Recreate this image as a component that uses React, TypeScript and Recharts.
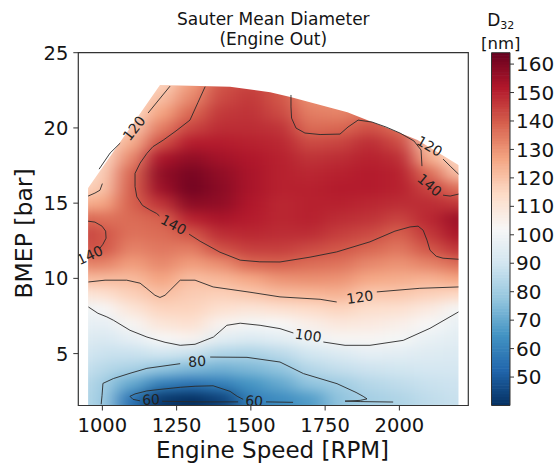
import { Area, ComposedChart, Line, ReferenceArea, Scatter, XAxis, YAxis } from 'recharts'

// D32 [nm], rows = BMEP, columns = engine speed
const rpmNodes = [950, 1000, 1100, 1200, 1300, 1400, 1500, 1600, 1700, 1800, 1900, 2000, 2100, 2200]
const bmepNodes = [2, 3, 4, 5, 6, 7, 8, 9, 10, 11, 12, 13, 14, 15, 16, 17, 18, 19, 20, 21, 22, 23]
const d32Grid = [
  [84, 79, 56, 42, 38, 44, 59, 63, 67, 77, 81, 83, 86, 88],
  [85, 80, 70, 59, 56, 59, 65, 70, 77, 80, 84, 86, 88, 89],
  [88, 84, 82, 77, 74, 72, 74, 77, 84, 87, 89, 90, 91, 91],
  [91, 88, 88, 90, 88, 83, 82, 85, 90, 93, 96, 95, 94, 93],
  [94, 92, 96, 102, 104, 95, 93, 95, 99, 103, 103, 101, 97, 95],
  [97, 96, 103, 110, 112, 104, 101, 102, 106, 109, 108, 106, 102, 97],
  [99, 102, 110, 116, 116, 112, 110, 112, 114, 116, 113, 112, 108, 101],
  [110, 112, 117, 121, 118, 117, 119, 122, 123, 124, 119, 119, 117, 115],
  [122, 122, 122, 127, 121, 123, 126, 130, 131, 130, 126, 125, 124, 127],
  [133, 133, 128, 132, 128, 131, 138, 139, 137, 136, 132, 130, 133, 137],
  [142, 141, 133, 135, 134, 142, 145, 145, 143, 141, 138, 135, 141, 147],
  [144, 141, 136, 137, 141, 148, 149, 148, 148, 145, 143, 139, 146, 153],
  [138, 136, 137, 139, 150, 153, 151, 149, 150, 148, 147, 144, 149, 155],
  [125, 126, 139, 147, 158, 157, 152, 149, 150, 150, 149, 148, 148, 146],
  [116, 120, 139, 155, 162, 158, 153, 150, 150, 151, 151, 150, 144, 136],
  [112, 118, 138, 157, 161, 157, 153, 150, 149, 150, 151, 150, 137, 120],
  [111, 115, 132, 153, 157, 154, 152, 150, 147, 148, 150, 148, 125, 114],
  [110, 112, 125, 142, 151, 151, 150, 149, 143, 144, 148, 143, 119, 112],
  [110, 111, 119, 134, 144, 148, 148, 147, 137, 138, 142, 137, 116, 112],
  [110, 110, 114, 127, 138, 146, 147, 143, 134, 133, 136, 132, 114, 112],
  [110, 110, 112, 121, 132, 143, 146, 141, 131, 130, 132, 130, 114, 112],
  [110, 110, 112, 116, 128, 141, 144, 140, 130, 128, 130, 130, 114, 112],
]

// upper edge of the measured region (outside is blank)
const hullRpm = [919, 952, 1194, 1430, 1565, 1633, 1825, 2061, 2199, 2232]
const hullTop = [16.0, 16.0, 22.85, 22.74, 22.37, 22.05, 21.05, 19.2, 17.53, 17.53]

// contour lines [rpm, bmep], split where the labels sit
const c140a = [[1346, 22.74], [1322, 21.7], [1295, 20.52], [1248, 19.8], [1205, 19.19], [1170, 18.75], [1150, 18.31], [1127, 17.66], [1110, 16.98], [1110, 16.1], [1116, 15.42], [1135, 14.85], [1160, 14.55], [1183, 14.31], [1192, 14.15]]
const c140b = [[1292, 12.94], [1329, 12.47], [1396, 11.74], [1464, 11.21], [1530, 11.1], [1598, 11.09], [1699, 11.41], [1789, 11.76], [1901, 12.43], [1985, 13.14], [2036, 13.42], [2063, 13.47], [2080, 13.2], [2093, 12.54], [2103, 11.87], [2124, 11.47], [2147, 11.34], [2199, 11.27]]
const c140left = [[952, 13.8], [975, 13.74], [999, 13.47], [1011, 13.14], [1012.5, 12.67], [1002, 12.27], [992, 12.01]]
const c140topA = [[1635, 22.19], [1635, 21.4], [1637, 20.65], [1652, 19.99], [1682, 19.66], [1733, 19.56], [1800, 19.59], [1827, 20.06], [1861, 20.52], [1908, 20.39], [1955, 20.06], [2002, 19.66], [2049, 19.13], [2073, 18.53], [2076, 17.46]]
const c140topB = [[2147, 15.53], [2171, 15.47], [2199, 15.6]]
const c120edgeA = [[952, 15.47], [975, 15.67], [992, 15.86], [1000, 16.3]]
const c120edgeB = [[989, 17.26], [1026, 18.33], [1060, 18.99]]
const c120edgeC = [[1154, 20.99], [1184, 21.72], [1228, 22.78]]
const c120a = [[953, 9.76], [1009, 9.88], [1082, 9.88], [1127, 9.68], [1150, 9.32], [1177, 8.88], [1194, 8.73], [1211, 8.88], [1228, 9.21], [1262, 9.88], [1312, 9.88], [1373, 9.43], [1497, 9.08], [1598, 8.77], [1733, 8.61], [1789, 8.43]]
const c120b = [[1924, 9.1], [2069, 9.34], [2199, 9.43]]
const c120corner = [[2147, 17.93], [2171, 17.46], [2199, 16.93]]
const c100a = [[953, 8.1], [985, 7.68], [1015, 7.44], [1037, 7.22], [1093, 6.55], [1150, 6.1], [1211, 5.75], [1262, 5.55], [1312, 5.62], [1374, 6.1], [1396, 6.48], [1419, 6.88], [1464, 7.02], [1531, 6.88], [1598, 6.66], [1643, 6.37]]
const c100b = [[1744, 5.77], [1817, 5.55], [1901, 5.55], [2013, 5.88], [2103, 6.68], [2199, 7.77]]
const c80a = [[996, 1.63], [999, 2.22], [1002, 3.02], [1037, 3.34], [1093, 3.69], [1150, 4.02], [1262, 4.33]]
const c80b = [[1363, 4.77], [1487, 4.75], [1598, 4.44], [1677, 3.67], [1790, 3.0], [1854, 2.42], [1878, 2.16], [1891, 1.99], [1868, 1.89], [1817, 1.84], [1868, 1.81], [1979, 1.78]]
const c60a = [[1642, 1.76], [1551, 1.79]]
const c60b = [[1474, 1.96], [1454, 2.16], [1430, 2.49], [1373, 2.86], [1312, 2.83], [1262, 2.76], [1194, 2.62], [1150, 2.52], [1110, 2.32], [1093, 2.16], [1103, 1.96], [1127, 1.86]]
const c60c = [[1201, 1.83], [1329, 1.79], [1457, 1.79]]

const contourLabels = [
  { x: 1240, y: 13.57, t: '140' },
  { x: 958, y: 11.54, t: '140' },
  { x: 1107, y: 19.99, t: '120' },
  { x: 1867, y: 8.75, t: '120' },
  { x: 1693, y: 6.21, t: '100' },
  { x: 1319, y: 4.49, t: '80' },
  { x: 1164, y: 1.95, t: '60' },
  { x: 1511, y: 1.86, t: '60' },
  { x: 2102, y: 18.79, t: '120' },
  { x: 2102, y: 16.2, t: '140' },
]
const labelAngles = [28, -25, -52, -8, 8, -4, -3, 4, 30, 40]

const xTicks = [1000, 1250, 1500, 1750, 2000]
const yTicks = [5, 10, 15, 20, 25]
const cbTicks = [50, 60, 70, 80, 90, 100, 110, 120, 130, 140, 150, 160]

const X_MIN = 919
const X_MAX = 2232
const Y_MIN = 1.55
const Y_MAX = 25
const CB_MIN = 40
const CB_MAX = 164

const W = 557
const H = 466
const PLOT = { left: 78.3, top: 52.7, right: 468.3, bottom: 405.5 }
const CBAR = { left: 491.5, right: 510 }
const KX = (PLOT.right - PLOT.left) / (X_MAX - X_MIN)
const KY = (PLOT.bottom - PLOT.top) / (Y_MAX - Y_MIN)
const KCB = (PLOT.bottom - PLOT.top) / (CB_MAX - CB_MIN)
const FONT = 'DejaVu Sans'
const INK = '#141414'

const RDBU_R = ['#053061', '#2166ac', '#4393c3', '#92c5de', '#d1e5f0', '#f7f7f7', '#fddbc7', '#f4a582', '#d6604d', '#b2182b', '#67001f']

function hexRgb(h: string) {
  return [1, 3, 5].map(i => parseInt(h.slice(i, i + 2), 16))
}

function cmap(v: number) {
  const t = Math.min(1, Math.max(0, (v - CB_MIN) / (CB_MAX - CB_MIN)))
  const p = t * (RDBU_R.length - 1)
  const i = Math.min(Math.floor(p), RDBU_R.length - 2)
  const f = p - i
  const a = hexRgb(RDBU_R[i])
  const b = hexRgb(RDBU_R[i + 1])
  const c = a.map((av, k) => Math.round(av + (b[k] - av) * f))
  return `rgb(${c[0]},${c[1]},${c[2]})`
}

const edges = (nodes: number[], lo: number, hi: number) =>
  nodes.map((n, i) => [i === 0 ? lo : (nodes[i - 1] + n) / 2, i === nodes.length - 1 ? hi : (n + nodes[i + 1]) / 2])

const rpmEdges = edges(rpmNodes, 890, 2270)
const bmepEdges = edges(bmepNodes, 0.8, 26.5)

const cells = bmepNodes.flatMap((_, r) =>
  rpmNodes.map((__, c) => ({
    x: (rpmEdges[c][0] + rpmEdges[c][1]) / 2,
    y: (bmepEdges[r][0] + bmepEdges[r][1]) / 2,
    w: rpmEdges[c][1] - rpmEdges[c][0],
    h: bmepEdges[r][1] - bmepEdges[r][0],
    v: d32Grid[r][c],
  }))
)

const maskData = hullRpm.map((x, i) => ({ x, y: hullTop[i] }))

const contourSegments = [c140a, c140b, c140left, c140topA, c140topB, c120edgeA, c120edgeB, c120edgeC, c120a, c120b, c120corner, c100a, c100b, c80a, c80b, c60a, c60b, c60c]

// colour bar: one band per nm
const cbBands = Array.from({ length: CB_MAX - CB_MIN }, (_, i) => ({ x: 0.5, y: CB_MIN + i + 0.5, v: CB_MIN + i + 0.5 }))

function FieldCell(props: any) {
  const { cx, cy, payload } = props
  const w = payload.w * KX
  const h = payload.h * KY
  return <rect x={cx - w / 2 - 0.4} y={cy - h / 2 - 0.4} width={w + 0.8} height={h + 0.8} fill={cmap(payload.v)} />
}

function BarBand(props: any) {
  const { cx, cy, payload } = props
  const w = CBAR.right - CBAR.left
  return <rect x={cx - w / 2} y={cy - KCB / 2 - 0.3} width={w} height={KCB + 0.6} fill={cmap(payload.v)} />
}

function ContourLabel(props: any) {
  const { cx, cy, payload, index } = props
  const a = labelAngles[index] ?? 0
  return (
    <text x={cx} y={cy} transform={`rotate(${a} ${cx} ${cy})`} textAnchor="middle" dominantBaseline="central" fontSize={14} fontFamily={FONT} fill="#222">
      {payload.t}
    </text>
  )
}

const layer: React.CSSProperties = { position: 'absolute', left: 0, top: 0 }

export default function App() {
  return (
    <div style={{ position: 'absolute', left: 0, top: 0, width: W, height: H, background: '#fff', fontFamily: FONT }}>
      <style>{`.d32-field { filter: url(#d32Blur); clip-path: url(#d32Clip); }`}</style>
      <svg width={0} height={0} style={{ position: 'absolute' }}>
        <defs>
          <filter id="d32Blur" filterUnits="userSpaceOnUse" x={30} y={10} width={500} height={440} colorInterpolationFilters="sRGB">
            <feGaussianBlur stdDeviation="10 5.5" />
          </filter>
          <clipPath id="d32Clip" clipPathUnits="userSpaceOnUse">
            <rect x={PLOT.left} y={PLOT.top} width={PLOT.right - PLOT.left} height={PLOT.bottom - PLOT.top} />
          </clipPath>
        </defs>
      </svg>

      <div style={layer}>
        <ComposedChart width={W} height={H} margin={{ top: PLOT.top, right: W - PLOT.right, bottom: 0, left: 0 }}>
          <XAxis dataKey="x" type="number" domain={[X_MIN, X_MAX]} allowDataOverflow ticks={xTicks} interval={0} height={H - PLOT.bottom}
            axisLine={false} tickLine={{ stroke: '#333' }} tickSize={5} tickMargin={8}
            tick={{ fontSize: 19.5, fill: INK, fontFamily: FONT }} />
          <YAxis dataKey="y" type="number" domain={[Y_MIN, Y_MAX]} allowDataOverflow ticks={yTicks} interval={0} width={PLOT.left}
            axisLine={false} tickLine={{ stroke: '#333' }} tickSize={5} tickMargin={5}
            tick={{ fontSize: 19.5, fill: INK, fontFamily: FONT }} />
          <Scatter data={cells} dataKey="y" className="d32-field" shape={FieldCell} isAnimationActive={false} zIndex={50} />
          <Area data={maskData} dataKey="y" type="linear" baseValue={Y_MAX} fill="#fff" fillOpacity={1} stroke="none" dot={false} activeDot={false} isAnimationActive={false} zIndex={60} />
          <ReferenceArea x1={X_MIN} x2={952} y1={Y_MIN} y2={Y_MAX} fill="#fff" fillOpacity={1} stroke="none" zIndex={61} />
          <ReferenceArea x1={2199} x2={X_MAX} y1={Y_MIN} y2={Y_MAX} fill="#fff" fillOpacity={1} stroke="none" zIndex={61} />
          {contourSegments.map((seg, i) => (
            <Line key={i} data={seg.map(([x, y]) => ({ x, y }))} dataKey="y" type="linear" stroke="#2a2a2a" strokeWidth={1} strokeOpacity={0.9}
              dot={false} activeDot={false} isAnimationActive={false} zIndex={400} />
          ))}
          <Scatter data={contourLabels} dataKey="y" shape={ContourLabel} isAnimationActive={false} zIndex={450} />
          <ReferenceArea x1={X_MIN} x2={X_MAX} y1={Y_MIN} y2={Y_MAX} fill="none" stroke="#333" strokeWidth={1.2} zIndex={800} />
        </ComposedChart>
      </div>

      <div style={layer}>
        <ComposedChart width={W} height={H} margin={{ top: PLOT.top, right: 0, bottom: H - PLOT.bottom, left: CBAR.left }}>
          <XAxis type="number" dataKey="x" domain={[0, 1]} allowDataOverflow hide />
          <YAxis dataKey="y" orientation="right" type="number" domain={[CB_MIN, CB_MAX]} allowDataOverflow ticks={cbTicks} interval={0} width={W - CBAR.right}
            axisLine={false} tickLine={{ stroke: '#333' }} tickSize={4} tickMargin={2}
            tick={{ fontSize: 20, fill: INK, fontFamily: FONT }} />
          <Scatter data={cbBands} dataKey="y" shape={BarBand} isAnimationActive={false} />
          <ReferenceArea x1={0} x2={1} y1={CB_MIN} y2={CB_MAX} fill="none" stroke="#333" strokeWidth={1} zIndex={800} />
        </ComposedChart>
      </div>

      <svg width={W} height={H} style={{ ...layer, pointerEvents: 'none' }}>
        <text x={273.3} y={25} textAnchor="middle" fontSize={17} fontFamily={FONT} fill={INK}>Sauter Mean Diameter</text>
        <text x={273.3} y={45} textAnchor="middle" fontSize={17} fontFamily={FONT} fill={INK}>(Engine Out)</text>
        <text x={272.5} y={458} textAnchor="middle" fontSize={23} fontFamily={FONT} fill={INK}>Engine Speed [RPM]</text>
        <text x={32} y={233.5} transform="rotate(-90 32 233.5)" textAnchor="middle" fontSize={23.5} fontFamily={FONT} fill={INK}>BMEP [bar]</text>
        <text x={500.7} y={26} textAnchor="middle" fontSize={17} fontFamily={FONT} fill={INK}>
          D<tspan fontSize={11} dy={2.5}>32</tspan>
        </text>
        <text x={500.7} y={48.5} textAnchor="middle" fontSize={16.5} fontFamily={FONT} fill={INK}>[nm]</text>
      </svg>
    </div>
  )
}
